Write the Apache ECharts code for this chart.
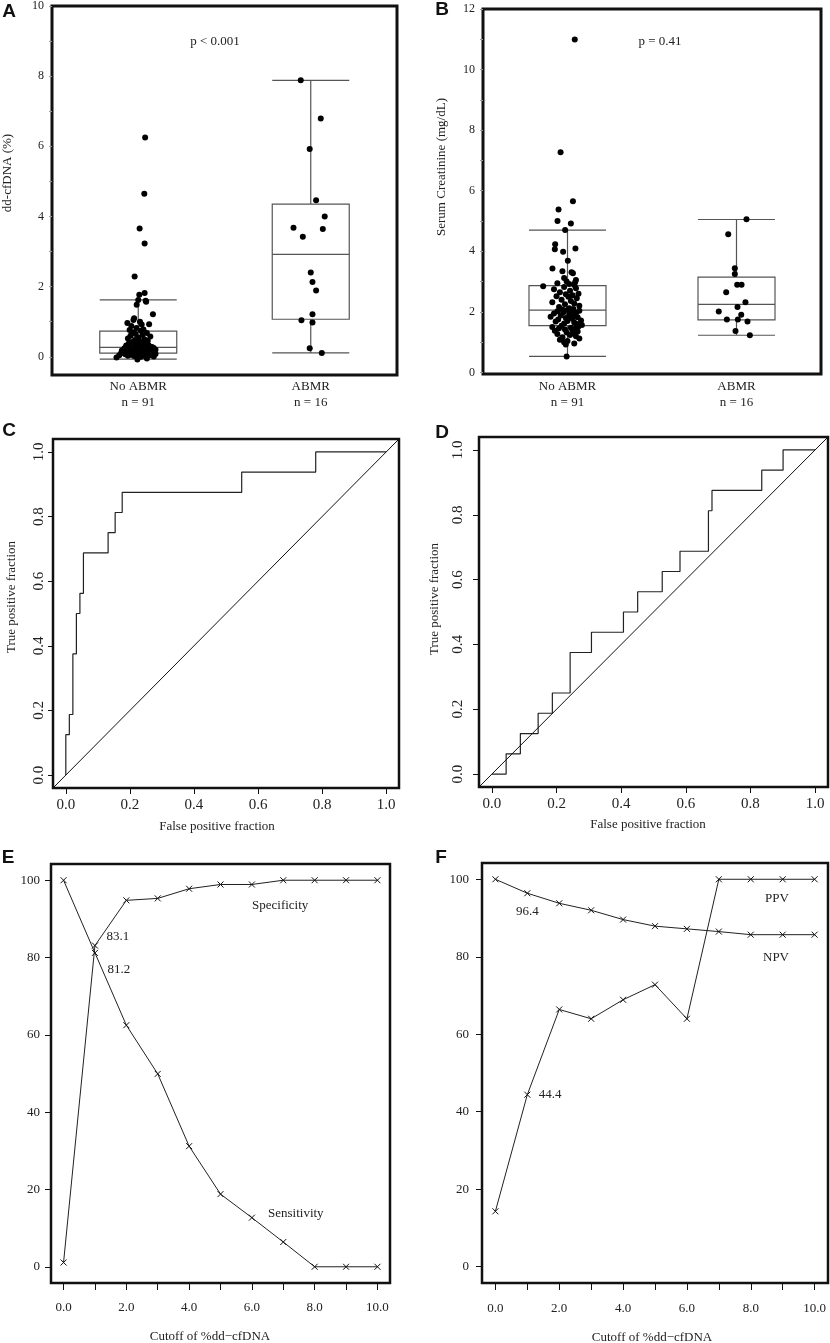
<!DOCTYPE html>
<html><head><meta charset="utf-8">
<script src="https://cdn.jsdelivr.net/npm/echarts@6/dist/echarts.min.js"></script>
<style>html,body{margin:0;padding:0;background:#fff}#c{width:830px;height:1343px}</style>
</head><body><div id="c"></div>
<script>
// ---------- DATA ----------
const categories = ['No ABMR', 'ABMR'];
const nCounts = [91, 16];
// boxplot stats [low whisker, Q1, median, Q3, high whisker]
const boxA = [[-0.07, 0.105, 0.27, 0.73, 1.62], [0.11, 1.07, 2.92, 4.35, 7.88]];
const boxB = [[0.53, 1.55, 2.06, 2.87, 4.70], [1.23, 1.74, 2.25, 3.15, 5.05]];

// Panel A points: dd-cfDNA (%)
const valsA0 = [6.25,4.65,3.66,3.23,2.29,1.82,1.77,1.62,1.60,1.57,1.48,1.21,1.10,1.05,1.00,0.96,0.93,0.92,0.88,0.82,0.78,0.76,0.74,
0.70,0.68,0.65,0.62,0.60,0.58,0.55,0.52,0.50,0.48,0.46,0.44,0.42,0.40,0.38,0.36,0.35,0.33,0.32,0.30,0.29,0.28,
0.27,
0.26,0.25,0.24,0.23,0.22,0.22,0.21,0.20,0.20,0.19,0.18,0.18,0.17,0.16,0.16,0.15,0.14,0.14,0.13,0.12,0.12,0.11,
0.10,0.10,0.09,0.09,0.08,0.08,0.07,0.07,0.06,0.06,0.05,0.05,0.04,0.04,0.03,0.03,0.02,0.02,0.01,0.00,-0.02,-0.05,-0.08];
const jitA0 = [0.04,0.035,0.008,0.037,-0.021,0.037,0.006,0.0,0.043,0.046,-0.009,0.085,-0.024,-0.028,0.01,-0.063,0.063,0.02,-0.04,-0.01,0.03,-0.05,0.015,
-0.03,0.05,-0.015,0.025,-0.045,0.07,0.0,-0.06,0.035,-0.02,0.055,0.01,-0.035,0.045,-0.055,0.02,-0.01,0.06,-0.07,0.03,-0.025,0.08,
0.005,
-0.05,0.09,-0.08,0.04,-0.03,0.065,0.015,-0.06,0.1,-0.015,0.05,-0.095,0.025,-0.04,0.075,0.0,-0.07,0.035,0.055,-0.02,0.085,-0.05,
0.03,-0.1,0.06,-0.03,0.1,0.01,-0.075,0.045,-0.045,0.08,-0.015,0.02,-0.11,0.065,0.0,-0.06,0.04,-0.025,0.09,0.015,-0.126,0.05,-0.005];
const valsA1 = [7.88,6.79,5.92,4.46,4.00,3.68,3.64,3.42,2.40,2.13,1.89,1.21,1.04,0.98,0.24,0.11];
const jitA1 = [-0.058,0.058,-0.006,0.031,0.081,-0.10,0.07,-0.046,0.0,0.01,0.031,0.01,-0.054,0.01,-0.006,0.064];

// Panel B points: serum creatinine (mg/dL)
const valsB0 = [10.99,7.27,5.65,5.38,5.00,4.92,4.70,4.23,4.09,4.07,3.99,3.69,3.43,3.34,3.31,3.28,3.12,3.05,3.00,2.98,2.95,2.92,2.89,
2.85,2.82,2.78,2.75,2.70,2.65,2.60,2.58,2.55,2.52,2.50,2.45,2.40,2.36,2.32,2.28,2.25,2.20,2.16,2.12,2.10,2.08,
2.06,
2.04,2.02,2.00,1.98,1.96,1.95,1.93,1.90,1.88,1.86,1.84,1.82,1.80,1.77,1.75,1.72,1.70,1.68,1.65,1.62,1.60,1.57,
1.54,1.52,1.50,1.48,1.46,1.44,1.42,1.40,1.38,1.35,1.32,1.30,1.27,1.24,1.20,1.16,1.12,1.08,1.04,1.00,0.96,0.92,0.53];
const jitB0 = [0.043,-0.041,0.032,-0.053,-0.059,0.02,-0.014,-0.073,0.047,-0.075,-0.026,0.002,-0.089,-0.03,0.024,0.032,-0.02,0.05,-0.005,0.045,-0.06,0.01,0.04,
-0.144,-0.02,0.05,-0.08,0.015,-0.045,0.065,-0.01,0.03,-0.065,0.005,0.055,-0.035,0.02,-0.09,0.04,-0.015,0.07,-0.05,0.01,0.035,-0.03,
0.0,
0.07,-0.06,0.025,-0.025,0.05,-0.08,0.01,0.045,-0.04,0.015,-0.1,0.06,-0.01,0.03,-0.055,0.08,0.0,-0.07,0.04,-0.02,0.055,0.085,
-0.035,0.065,-0.09,0.02,-0.05,0.045,-0.015,0.03,-0.075,0.06,-0.005,0.035,-0.06,0.015,0.05,-0.03,0.07,-0.045,0.0,-0.02,0.04,-0.01,-0.005];
const valsB1 = [5.06,4.56,3.44,3.25,2.90,2.90,2.65,2.32,2.16,2.01,1.91,1.75,1.75,1.68,1.37,1.23];
const jitB1 = [0.059,-0.049,-0.01,-0.01,0.004,0.03,-0.061,0.053,0.006,-0.105,0.028,-0.057,0.008,0.065,-0.006,0.079];

// ROC curves: FPR where TPR steps up, and the TPR reached
const rocC_fpr = [0, 0.011, 0.022, 0.033, 0.044, 0.055, 0.132, 0.154, 0.176, 0.549, 0.780, 1.0];
const rocC_tpr = [0.125, 0.1875, 0.375, 0.5, 0.5625, 0.6875, 0.75, 0.8125, 0.875, 0.9375, 1.0, 1.0];
const rocD_fpr = [0.044, 0.088, 0.143, 0.187, 0.242, 0.308, 0.407, 0.451, 0.527, 0.582, 0.670, 0.681, 0.835, 0.901, 1.0];
const rocD_tpr = [0.0625, 0.125, 0.1875, 0.25, 0.375, 0.4375, 0.5, 0.5625, 0.625, 0.6875, 0.8125, 0.875, 0.9375, 1.0, 1.0];

// Panels E/F
const cutoffs = [0,1,2,3,4,5,6,7,8,9,10];
const sensitivity = [100,81.2,62.5,49.9,31.2,18.8,12.7,6.4,0,0,0];
const specificity = [1.1,83.1,94.8,95.3,97.8,98.9,98.9,100,100,100,100];
const ppv = [14.3,44.4,66.4,64.0,68.9,72.8,64.0,100,100,100,100];
const npv = [100,96.4,93.8,92.0,89.6,87.9,87.2,86.5,85.7,85.7,85.7];

// tick labels
const ticksA = [0,2,4,6,8,10];
const ticksB = [0,2,4,6,8,10,12];
const ticksROC = [0,0.2,0.4,0.6,0.8,1.0];
const ticksPct = [0,20,40,60,80,100];
const ticksCut = [0,2,4,6,8,10];

// ---------- CHART ----------
const SERIF = 'Liberation Serif';
const TXT = '#222';
const chart = echarts.init(document.getElementById('c'), null, {renderer: 'canvas'});

const gridBase = {show: true, borderColor: '#111', borderWidth: 2.5, backgroundColor: 'transparent', containLabel: false};
const grids = [
  Object.assign({left: 52, top: 5, width: 345, height: 370}, gridBase, {borderWidth: 3}),
  Object.assign({left: 483, top: 9, width: 338, height: 365}, gridBase, {borderWidth: 3}),
  Object.assign({left: 53, top: 439, width: 346, height: 349}, gridBase),
  Object.assign({left: 479, top: 437, width: 349, height: 350}, gridBase),
  Object.assign({left: 51, top: 864, width: 339, height: 419}, gridBase),
  Object.assign({left: 482, top: 863, width: 346, height: 420}, gridBase)
];

const range = (a, b) => { const r = []; for (let i = a; i <= b; i++) r.push(i); return r; };

function catAxis(gi, margin) {
  return {type: 'category', gridIndex: gi, data: categories, boundaryGap: true,
    axisLine: {show: false, onZero: false}, axisTick: {show: false}, splitLine: {show: false},
    axisLabel: {formatter: (v, i) => v + '\nn = ' + nCounts[i], fontFamily: SERIF, fontSize: 13,
      lineHeight: 16, color: TXT, margin: margin}};
}
function jitAxis(gi) {
  return {type: 'value', gridIndex: gi, min: -0.5, max: 1.5, show: false, axisLine: {onZero: false}};
}
function valAxis(gi, min, max, tickVals, labelVals, fmt, opts) {
  opts = opts || {};
  return {type: 'value', gridIndex: gi, min: min, max: max,
    axisLine: {show: false, onZero: false}, splitLine: {show: false},
    axisTick: {show: true, customValues: tickVals, length: opts.tickLen || 4, inside: false,
      lineStyle: {color: opts.tickColor || '#111', width: 1}},
    axisLabel: {customValues: labelVals, formatter: fmt, fontFamily: SERIF,
      fontSize: opts.fontSize || 13, color: TXT, margin: opts.margin || 8, rotate: opts.rotate || 0}};
}
const f1 = v => Number(v).toFixed(1);
const f0 = v => String(v);

const xAxes = [
  catAxis(0, 4), jitAxis(0),
  catAxis(1, 5), jitAxis(1),
  valAxis(2, -0.04, 1.04, ticksROC, ticksROC, f1, {tickLen: 6, fontSize: 15, margin: 10}),
  valAxis(3, -0.04, 1.04, ticksROC, ticksROC, f1, {tickLen: 6, fontSize: 15, margin: 10}),
  valAxis(4, -0.4, 10.4, cutoffs, ticksCut, f1, {tickLen: 7, fontSize: 13, margin: 18}),
  valAxis(5, -0.42, 10.42, cutoffs, ticksCut, f1, {tickLen: 7, fontSize: 13, margin: 19})
];
const yAxes = [
  valAxis(0, -0.52, 10, range(0, 10), ticksA, f0, {tickLen: 3, tickColor: '#999', fontSize: 12, margin: 8}),
  valAxis(1, -0.05, 12, range(0, 12), ticksB, f0, {tickLen: 3, tickColor: '#999', fontSize: 12, margin: 8}),
  valAxis(2, -0.04, 1.04, ticksROC, ticksROC, f1, {tickLen: 5, fontSize: 15, margin: 6, rotate: 90}),
  valAxis(3, -0.04, 1.04, ticksROC, ticksROC, f1, {tickLen: 6, fontSize: 15, margin: 13, rotate: 90}),
  valAxis(4, -4.2, 104.2, ticksPct, ticksPct, f0, {tickLen: 6, fontSize: 13, margin: 11}),
  valAxis(5, -4.2, 104.2, ticksPct, ticksPct, f0, {tickLen: 6, fontSize: 13, margin: 13})
];

function boxSeries(xi, yi, stats) {
  return {type: 'boxplot', xAxisIndex: xi, yAxisIndex: yi, data: stats, boxWidth: [77, 77], z: 2,
    itemStyle: {color: 'transparent', borderColor: '#555', borderWidth: 1.2}, silent: true};
}
function pointSeries(xi, yi, idx, vals, jit) {
  return {type: 'scatter', xAxisIndex: xi, yAxisIndex: yi, symbol: 'circle', symbolSize: 6, z: 5,
    itemStyle: {color: '#000', opacity: 1}, silent: true,
    data: vals.map((v, i) => [idx + jit[i], v])};
}
function stairs(fpr, tpr) {
  const pts = [[0, 0]]; let prev = 0;
  fpr.forEach((f, i) => { pts.push([f, prev]); pts.push([f, tpr[i]]); prev = tpr[i]; });
  return pts;
}
function lineSeries(xi, yi, data, extra) {
  return Object.assign({type: 'line', xAxisIndex: xi, yAxisIndex: yi, data: data, showSymbol: false,
    lineStyle: {color: '#222', width: 1.2}, silent: true, z: 3}, extra || {});
}
const XSYM = 'path://M0,0L10,10M10,0L0,10';
function metricSeries(xi, yi, vals, labelIdx, labelOpt) {
  return {type: 'line', xAxisIndex: xi, yAxisIndex: yi, silent: true, z: 4,
    symbol: XSYM, symbolSize: [6, 6], showAllSymbol: true,
    itemStyle: {color: '#111', borderColor: '#111', borderWidth: 1},
    lineStyle: {color: '#222', width: 1},
    data: vals.map((v, i) => {
      const d = {value: [cutoffs[i], v]};
      if (i === labelIdx) d.label = Object.assign({show: true, formatter: String(v), fontFamily: SERIF,
        fontSize: 13, color: TXT}, labelOpt);
      return d;
    })};
}

const series = [
  boxSeries(0, 0, boxA),
  pointSeries(1, 0, 0, valsA0, jitA0),
  pointSeries(1, 0, 1, valsA1, jitA1),
  boxSeries(2, 1, boxB),
  pointSeries(3, 1, 0, valsB0, jitB0),
  pointSeries(3, 1, 1, valsB1, jitB1),
  lineSeries(4, 2, stairs(rocC_fpr, rocC_tpr)),
  lineSeries(4, 2, [[-0.04, -0.04], [1.04, 1.04]], {lineStyle: {color: '#111', width: 1}}),
  lineSeries(5, 3, stairs(rocD_fpr, rocD_tpr)),
  lineSeries(5, 3, [[-0.04, -0.04], [1.04, 1.04]], {lineStyle: {color: '#111', width: 1}}),
  metricSeries(6, 4, specificity, 1, {position: 'right', offset: [3, -9]}),
  metricSeries(6, 4, sensitivity, 1, {position: 'right', offset: [4, 17]}),
  metricSeries(7, 5, npv, 1, {position: 'bottom', offset: [0, 3]}),
  metricSeries(7, 5, ppv, 1, {position: 'right', offset: [3, 0]})
];

function txt(text, x, y, o) {
  o = o || {};
  return {type: 'text', x: x, y: y, rotation: o.rot || 0, silent: true, z: 10,
    style: {text: text, fill: o.fill || TXT, fontFamily: o.font || SERIF, fontSize: o.size || 13,
      fontWeight: o.weight || 'normal', align: o.align || 'center', verticalAlign: 'middle'}};
}
const R = Math.PI / 2;
const letter = (t, x, y) => txt(t, x, y, {font: 'Liberation Sans', size: 19, weight: 'bold', fill: '#111'});
const graphics = [
  letter('A', 9, 12), letter('B', 442, 10), letter('C', 9, 431),
  letter('D', 442, 433), letter('E', 8, 858), letter('F', 441, 858),
  txt('dd-cfDNA (%)', 8, 173, {rot: R}),
  txt('Serum Creatinine (mg/dL)', 442, 167, {rot: R}),
  txt('True positive fraction', 12, 597, {rot: R}),
  txt('True positive fraction', 435, 599, {rot: R}),
  txt('False positive fraction', 217, 827),
  txt('False positive fraction', 648, 825),
  txt('Cutoff of %dd\u2212cfDNA', 210, 1337),
  txt('Cutoff of %dd\u2212cfDNA', 652, 1338),
  txt('p < 0.001', 215, 42),
  txt('p = 0.41', 660, 42),
  txt('Specificity', 252, 906, {align: 'left'}),
  txt('Sensitivity', 268, 1214, {align: 'left'}),
  txt('PPV', 765, 899, {align: 'left'}),
  txt('NPV', 763, 958, {align: 'left'})
];

chart.setOption({
  animation: false,
  backgroundColor: '#fff',
  textStyle: {fontFamily: SERIF},
  grid: grids,
  xAxis: xAxes,
  yAxis: yAxes,
  series: series,
  graphic: graphics
});
</script>
</body></html>
